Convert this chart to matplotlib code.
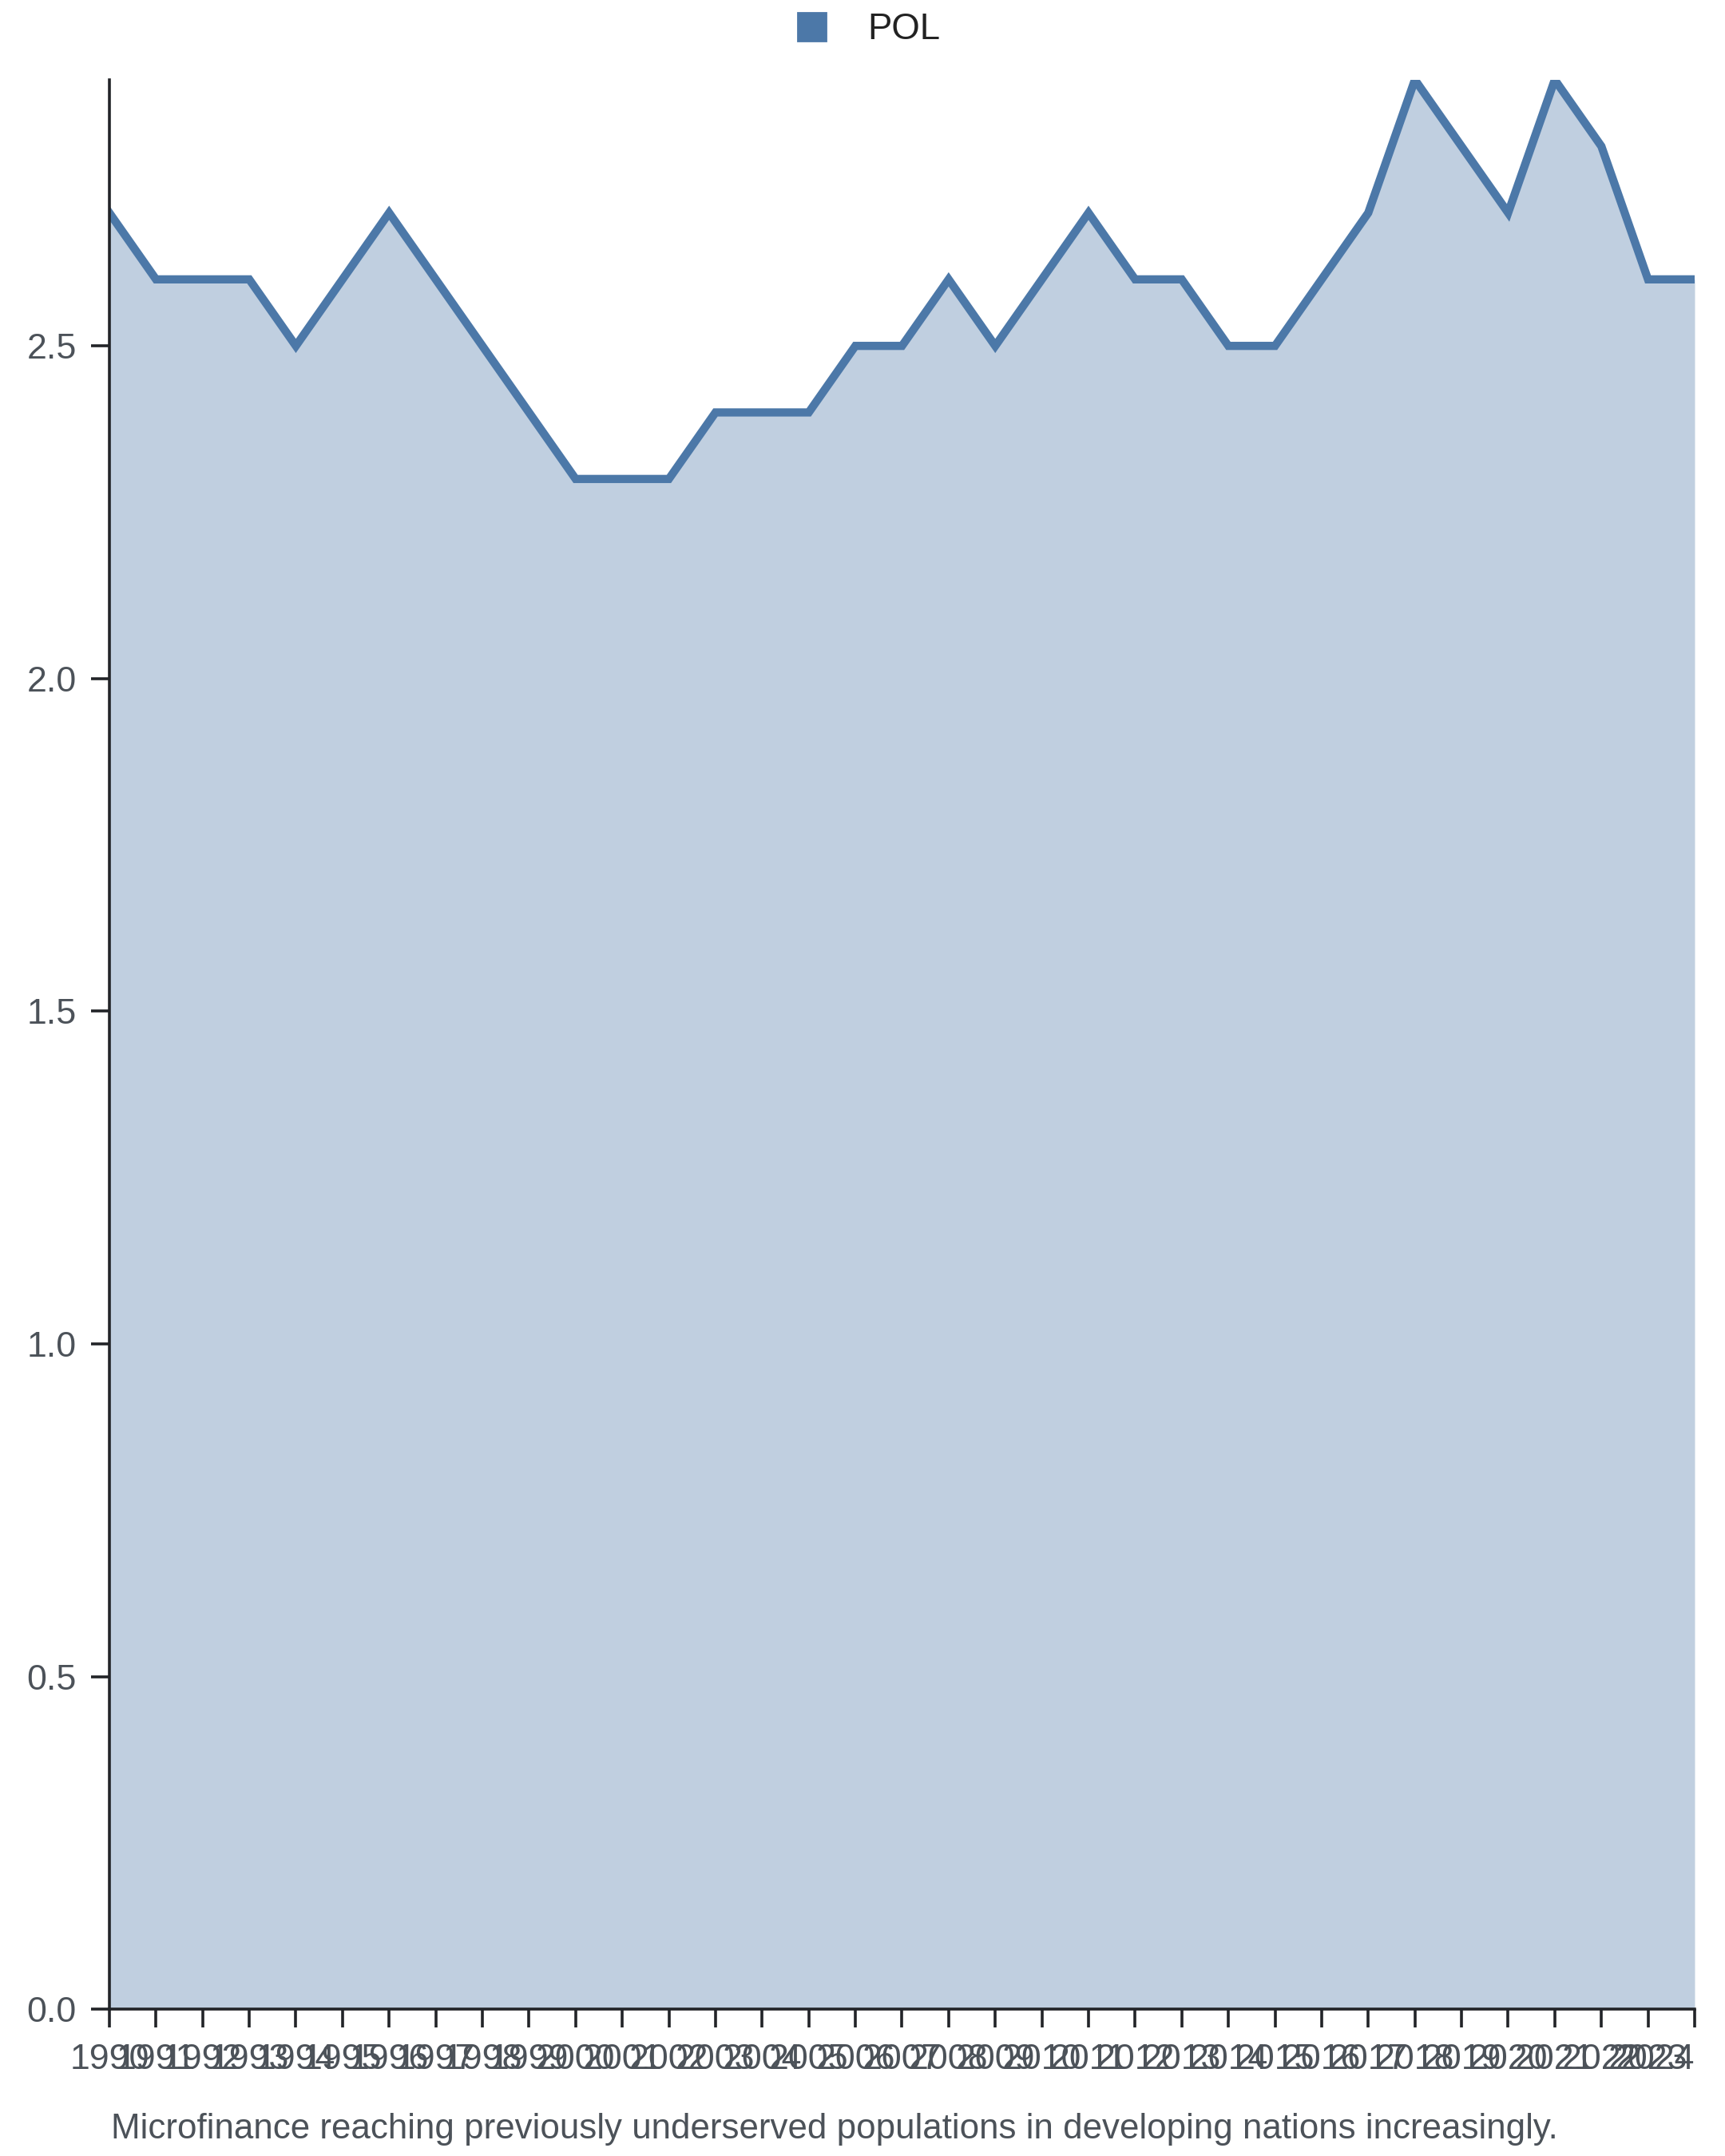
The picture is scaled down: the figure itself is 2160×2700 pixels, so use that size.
import matplotlib
matplotlib.use("Agg")
import matplotlib.pyplot as plt
from matplotlib.lines import Line2D

# data
years = list(range(1990, 2025))
values = [2.7, 2.6, 2.6, 2.6, 2.5, 2.6, 2.7, 2.6, 2.5, 2.4,
          2.3, 2.3, 2.3, 2.4, 2.4, 2.4, 2.5, 2.5, 2.6, 2.5,
          2.6, 2.7, 2.6, 2.6, 2.5, 2.5, 2.6, 2.7, 2.9, 2.8,
          2.7, 2.9, 2.8, 2.6, 2.6]
y_ticks = [0.0, 0.5, 1.0, 1.5, 2.0, 2.5]
series_name = "POL"
caption = "Microfinance reaching previously underserved populations in developing nations increasingly."

color = "#4c78a8"
text_grey = "#4c5259"
axis_col = "#222428"

plt.rcParams['font.family'] = ['Liberation Sans', 'DejaVu Sans']

fig = plt.figure(figsize=(10.8, 13.5), dpi=200)
ax = fig.add_axes([0.0634, 0.0681, 0.9190, 0.8949])

ax.fill_between(years, values, 0, color=color, alpha=0.35, linewidth=0)
ax.plot(years, values, color=color, linewidth=3.7, solid_joinstyle='miter')

ax.set_xlim(years[0], years[-1])
ax.set_ylim(0, 2.9)
ax.set_xticks(years)
ax.set_xticklabels([str(y) for y in years])
ax.set_yticks(y_ticks)
ax.set_yticklabels([f"{v:.1f}" for v in y_ticks])

for side in ['top', 'right']:
    ax.spines[side].set_visible(False)
for side in ['left', 'bottom']:
    ax.spines[side].set_color(axis_col)
    ax.spines[side].set_linewidth(1.3)

ax.tick_params(axis='both', length=8.3, width=1.3, color=axis_col,
               labelsize=16.1, labelcolor=text_grey)
ax.tick_params(axis='x', pad=7)
ax.tick_params(axis='y', pad=6.5)
# last label sits flush with the end of the axis
ax.get_xticklabels()[-1].set_horizontalalignment('right')

handle = Line2D([], [], marker='s', linestyle='none', markersize=12.6,
                markerfacecolor=color, markeredgecolor=color)
leg = fig.legend([handle], [series_name], loc='center', bbox_to_anchor=(0.503, 0.9863),
                 frameon=False, fontsize=16.4, handlelength=0.9, handletextpad=1.1,
                 borderpad=0)
for t in leg.get_texts():
    t.set_color("#222222")

fig.text(0.0644, 1 - 2678 / 2700, caption, ha='left', va='baseline',
         fontsize=15.8, color=text_grey)

fig.savefig("out.png", dpi=200)
